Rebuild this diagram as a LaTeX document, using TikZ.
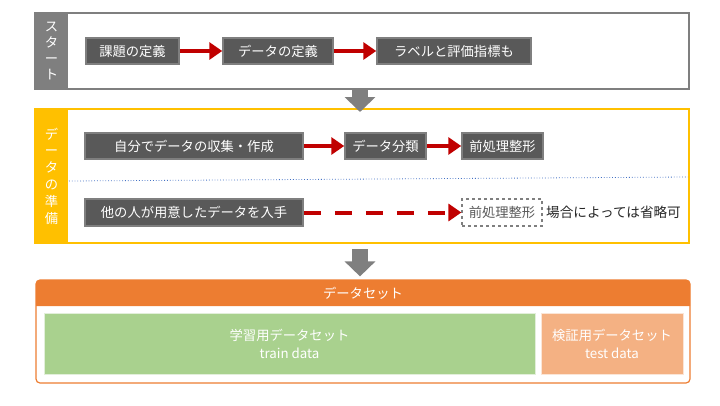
\documentclass[tikz,border=0pt]{standalone}
\usepackage{fontspec}
\setmainfont{Noto Sans CJK JP}
\usetikzlibrary{arrows.meta,calc}
\definecolor{boxgray}{HTML}{595959}
\definecolor{edgegray}{HTML}{7F7F7F}
\definecolor{myred}{HTML}{C00000}
\definecolor{myyellow}{HTML}{FFC000}
\definecolor{myorange}{HTML}{ED7D31}
\definecolor{mygreen}{HTML}{A9D18E}
\definecolor{mygreenedge}{HTML}{E2EFDA}
\definecolor{mypeach}{HTML}{F4B183}
\definecolor{mypeachedge}{HTML}{FBE5D6}
\definecolor{myblue}{HTML}{4472C4}
\definecolor{notetext}{HTML}{262626}
\begin{document}
\begin{tikzpicture}[x=1pt,y=-1pt,
  txt/.style={font=\fontsize{13.3}{15}\selectfont},
  stepbox/.style={txt,draw=edgegray,fill=boxgray,line width=1.5pt,text=white,minimum height=26pt,inner sep=0pt},
  optbox/.style={txt,draw=edgegray,dashed,line width=1.2pt,fill=white,text=boxgray,minimum height=27pt,inner sep=0pt},
  redarrow/.style={draw=myred,line width=4pt,-{Triangle[length=13pt,width=17pt]}},
  grayarrow/.style={draw=edgegray,line width=16pt,-{Triangle[length=15pt,width=30pt]}},
  strip/.style={txt,text=white,inner sep=0pt,align=center,minimum width=33pt},
  panel/.style={minimum width=654pt,inner sep=0pt},
  part/.style={font=\fontsize{13.3}{18}\selectfont,text=white,align=center,inner sep=0pt,minimum height=61pt,line width=1pt}
]
\useasboundingbox (0,0) rectangle (720,405);

% ---------- section 1 ----------
\node[panel,draw=edgegray,line width=1.5pt,minimum height=76pt] (sec1) at (362,51) {};
\node[strip,fill=edgegray,minimum height=76pt] (lab1) at (51.5,51) {};
\node[text=white,align=center,font=\fontsize{13.3}{15.7}\selectfont] at (lab1) {ス\\タ\\ー\\ト};
\node[stepbox,minimum width=93pt] (b1) at (132.5,51) {課題の定義};
\node[stepbox,minimum width=110pt] (b2) at (278,51) {データの定義};
\node[stepbox,minimum width=154pt] (b3) at (454,51) {ラベルと評価指標も};
\draw[redarrow] (b1.east) -- (b2.west);
\draw[redarrow] (b2.east) -- (b3.west);

% ---------- section 2 ----------
\node[panel,draw=myyellow,line width=2pt,minimum height=134pt] (sec2) at (362,176) {};
\node[strip,fill=myyellow,minimum height=134pt] (lab2) at (51.5,176) {};
\node[text=white,align=center,font=\fontsize{13.3}{16.8}\selectfont] at (lab2) {デ\\ー\\タ\\の\\準\\備};
\coordinate (dl) at (69,181);
\coordinate (dr) at (688,177);
\draw[myblue,dotted,line width=0.8pt] (dl) -- (dr);
\node[stepbox,minimum width=218pt] (c1) at (194,146) {自分でデータの収集・作成};
\node[stepbox,minimum width=81pt] (c2) at (385.5,146) {データ分類};
\node[stepbox,minimum width=81pt] (c3) at (502.5,146) {前処理整形};
\draw[redarrow] (c1.east) -- (c2.west);
\draw[redarrow] (c2.east) -- (c3.west);
\node[stepbox,minimum width=218pt,minimum height=27pt] (d1) at (194,212.5) {他の人が用意したデータを入手};
\node[optbox,minimum width=80pt] (d2) at (502,212.5) {前処理整形};
\node[txt,text=notetext,anchor=west,inner sep=0pt,font=\fontsize{13.6}{15}\selectfont] (note) at (546,212.5) {場合によっては省略可};
\draw[redarrow,dash pattern=on 17pt off 14pt] (d1.east) -- (d2.west);

% ---------- section 3 ----------
\node[panel,draw=myorange,line width=1.2pt,minimum height=103pt,rounded corners=4pt] (sec3) at (363,331.5) {};
\path[fill=myorange] (36,306) {[rounded corners=4pt] -- (36,280) -- (690,280)} -- (690,306) -- cycle;
\node[txt,text=white] (hdr) at (363,293) {データセット};
\node[part,fill=mygreen,draw=mygreenedge,minimum width=491pt] (train) at (289.5,343.5) {学習用データセット\\train data};
\node[part,fill=mypeach,draw=mypeachedge,minimum width=142pt] (test) at (612,343.5) {検証用データセット\\test data};

% ---------- gray flow arrows ----------
\draw[grayarrow] (sec1.south -| 360,0) -- ($(sec2.north -| 360,0)+(0,4)$);
\draw[grayarrow] ($(sec2.south -| 360,0)+(0,5)$) -- ($(sec3.north -| 360,0)+(0,-3)$);
\end{tikzpicture}
\end{document}
